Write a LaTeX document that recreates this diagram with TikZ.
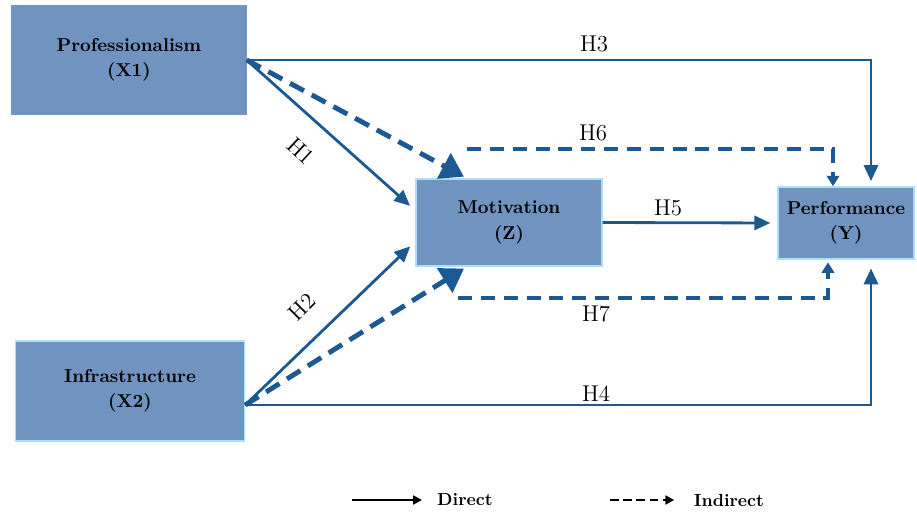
\documentclass[tikz,border=0pt]{standalone}
\usetikzlibrary{arrows.meta}
\definecolor{boxblue}{RGB}{112,147,192}
\definecolor{edgecyan}{RGB}{172,222,244}
\definecolor{pathblue}{RGB}{28,88,146}
\begin{document}
\begin{tikzpicture}[x=0.02cm,y=-0.02cm,
		var/.style={fill=boxblue,draw=edgecyan,line width=0.8pt,align=center,inner sep=0pt,
			font=\fontsize{10.6}{14.5}\selectfont\bfseries},
		direct/.style={draw=pathblue,line width=1.6pt,-{Triangle[length=9pt,width=8pt]}},
		indirect/.style={draw=pathblue,line width=2.8pt,dash pattern=on 9pt off 5pt,
			-{Triangle[length=13pt,width=16pt]}},
		mediated/.style={draw=pathblue,line width=2.2pt,dash pattern=on 8pt off 5pt,
			-{Triangle[length=6pt,width=7pt]}},
		hyp/.style={inner sep=1pt,font=\fontsize{13}{15}\selectfont},
		legtext/.style={inner sep=0pt,font=\fontsize{10}{12}\selectfont\bfseries},
		legline/.style={line width=1.2pt,-{Triangle[length=5pt,width=5pt]}}]
		\useasboundingbox (0,0) rectangle (917,511);
		% Variables
		\node[var,draw=boxblue,minimum width=4.68cm,minimum height=2.16cm] (prof) at (129,60) {Professionalism\\(X1)};
		\node[var,minimum width=4.58cm,minimum height=2cm] (infra) at (130,391) {Infrastructure\\(X2)};
		\node[var,minimum width=3.72cm,minimum height=1.74cm] (mot) at (509,222.5) {Motivation\\(Z)};
		\node[var,minimum width=2.72cm,minimum height=1.44cm] (perf) at (846,223) {Performance\\(Y)};
		% Direct paths
		\draw[direct,shorten >=4pt] (prof.east) -- ([yshift=0.24cm]mot.west);
		\draw[direct,shorten >=4pt] ([yshift=-0.28cm]infra.east) -- ([yshift=-0.38cm]mot.west);
		\draw[direct,shorten >=3pt] (prof.east) -| ([xshift=0.5cm]perf.north);
		\draw[direct,shorten >=5pt] ([yshift=-0.28cm]infra.east) -| ([xshift=0.5cm]perf.south);
		\draw[direct,shorten >=4pt] (mot.east) -- (perf.west);
		% Indirect paths
		\draw[indirect,shorten >=2pt] (prof.east) -- ([xshift=-0.84cm]mot.north);
		\draw[indirect,shorten >=2pt] ([yshift=-0.28cm]infra.east) -- ([xshift=-0.84cm]mot.south);
		\draw[mediated] ([xshift=-0.84cm]mot.north) ++(0,0.58cm) -| ([xshift=-0.26cm]perf.north);
		\draw[mediated,shorten >=1.5pt] ([xshift=-1.02cm]mot.south) ++(0,-0.62cm) -| ([xshift=-0.36cm]perf.south);
		% Labels
		\node[hyp,rotate=-43] (h1) at (301,151) {H1};
		\node[hyp,rotate=45] (h2) at (302,307) {H2};
		\node[hyp] (h3) at (594,44) {H3};
		\node[hyp] (h4) at (596,394) {H4};
		\node[hyp] (h5) at (668,208) {H5};
		\node[hyp] (h6) at (593,133) {H6};
		\node[hyp] (h7) at (596,314) {H7};
		% Legend
		\node[legtext] (direct) at (465,500) {Direct};
		\node[legtext] (indirect) at (729,500) {Indirect};
		\coordinate (dirstart) at (352,500);
		\coordinate (indstart) at (610,500);
		\draw[legline,shorten >=8.5pt] (dirstart) -- (direct.west);
		\draw[legline,dash pattern=on 5pt off 2.5pt,shorten >=11pt] (indstart) -- (indirect.west);
	\end{tikzpicture}
\end{document}
